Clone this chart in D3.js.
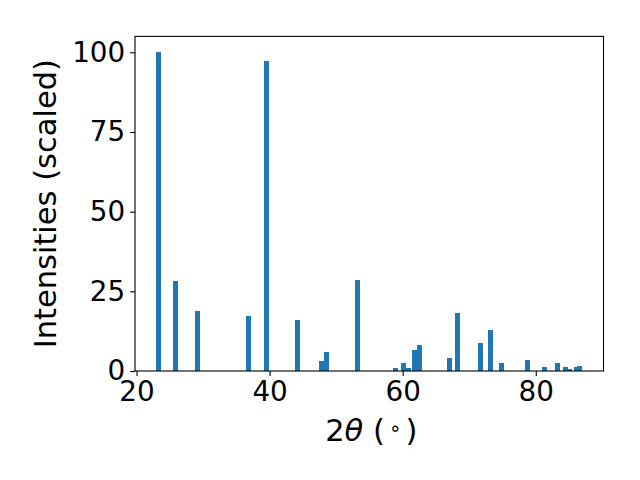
<!DOCTYPE html>
<html><head><meta charset="utf-8">
<script src="https://cdn.jsdelivr.net/npm/d3@7"></script>
<style>body{margin:0;background:#fff}svg{display:block}</style>
</head><body>
<script>
const twoTheta = [23.34, 25.83, 29.2, 36.9, 39.46, 44.13, 47.74, 48.5, 53.24, 58.9, 60.1, 60.8, 61.8, 62.5, 67.1, 68.3, 71.7, 73.2, 74.9, 78.7, 81.3, 83.3, 84.4, 85.0, 86.1, 86.6];
const intensities = [100, 28.2, 18.8, 17.3, 97.3, 16.0, 3.1, 6.0, 28.6, 0.9, 2.5, 0.9, 6.6, 8.2, 4.1, 18.2, 8.8, 12.9, 2.5, 3.4, 1.3, 2.5, 1.3, 0.6, 1.2, 1.6];
const xTicks = [20, 40, 60, 80];
const yTicks = [0, 25, 50, 75, 100];
const barWidth = 0.75;

const W = 640, H = 480;
const L = 135, R = 603.5, T = 36.4, B = 371;
const svg = d3.select("body").append("svg").attr("width", W).attr("height", H);
const x = d3.scaleLinear().domain([19.77, 90.18]).range([L, R]);
const y = d3.scaleLinear().domain([0, 105]).range([B, T]);
const data = twoTheta.map((t, i) => ({t, v: intensities[i]}));

svg.append("g").selectAll("rect").data(data).join("rect")
  .attr("x", d => x(d.t - barWidth / 2))
  .attr("width", d => x(d.t + barWidth / 2) - x(d.t - barWidth / 2))
  .attr("y", d => y(d.v))
  .attr("height", d => y(0) - y(d.v))
  .attr("fill", "#1f77b4")
  .attr("shape-rendering", "crispEdges");

const font = "'DejaVu Sans', sans-serif";
const xAxis = svg.append("g").attr("transform", `translate(0,${B})`)
  .call(d3.axisBottom(x).tickValues(xTicks).tickSize(4.9).tickPadding(4.9).tickFormat(d3.format("d")));
const yAxis = svg.append("g").attr("transform", `translate(${L},0)`)
  .call(d3.axisLeft(y).tickValues(yTicks).tickSize(4.9).tickPadding(4.9).tickFormat(d3.format("d")));
[xAxis, yAxis].forEach(g => {
  g.select(".domain").remove();
  g.selectAll("line").attr("stroke", "#000").attr("stroke-width", 1.1);
  g.selectAll("text").attr("font-family", font).attr("font-size", 27.8).attr("fill", "#000");
});

svg.append("rect").attr("x", L).attr("y", T).attr("width", R - L).attr("height", B - T)
  .attr("fill", "none").attr("stroke", "#000").attr("stroke-width", 1.1);

const xl = svg.append("text").attr("x", (L + R) / 2 + 2).attr("y", 441)
  .attr("text-anchor", "middle").attr("font-family", font).attr("font-size", 30.5).attr("fill", "#000");
xl.append("tspan").text("2");
xl.append("tspan").attr("font-style", "italic").text("θ");
xl.append("tspan").text(" (");
xl.append("tspan").attr("font-size", 20).attr("dx", 4).attr("dy", -6).text("∘");
xl.append("tspan").attr("dx", 4).attr("dy", 6).text(")");

svg.append("text").attr("transform", `translate(56,${(T + B) / 2}) rotate(-90)`)
  .attr("text-anchor", "middle").attr("font-family", font).attr("font-size", 30.5).attr("fill", "#000")
  .text("Intensities (scaled)");
</script>
</body></html>
